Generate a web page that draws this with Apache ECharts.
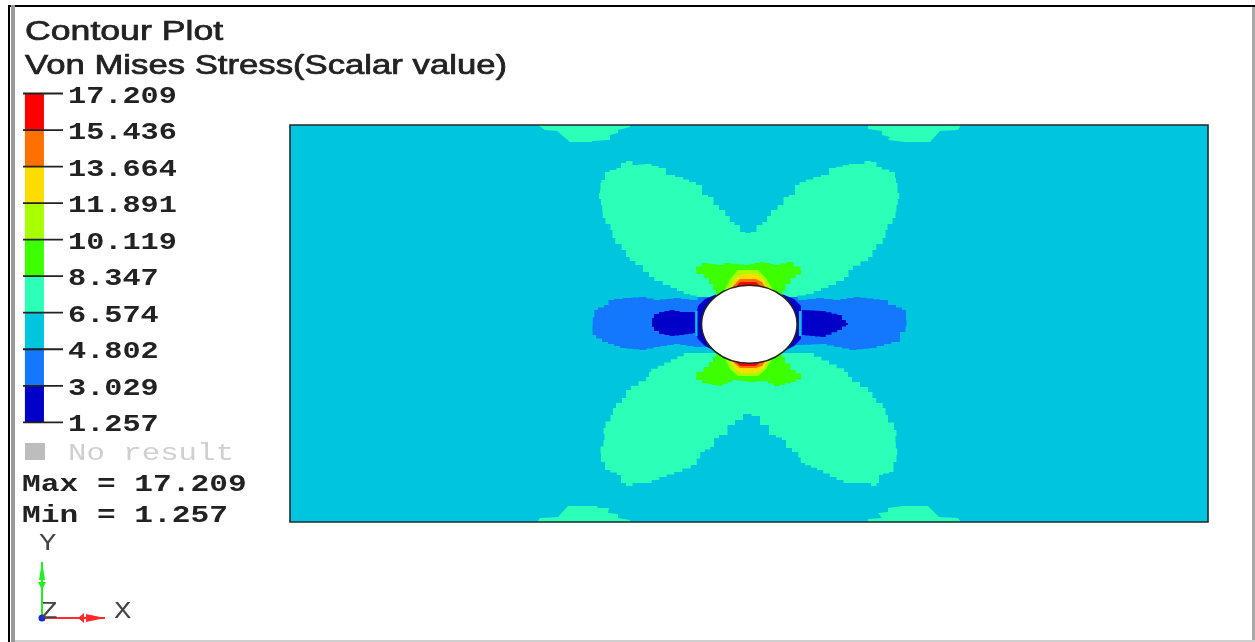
<!DOCTYPE html>
<html><head><meta charset="utf-8">
<script src="https://cdn.jsdelivr.net/npm/echarts@6/dist/echarts.min.js"></script>
<style>html,body{margin:0;padding:0;background:#fff}#c{width:1255px;height:642px;filter:blur(0.7px)}</style>
</head><body><div id="c"></div>
<script>
// Legend
const tickLabels = ['17.209','15.436','13.664','11.891','10.119','8.347','6.574','4.802','3.029','1.257'];
const bandColors = ['#ff0000','#ff7000','#ffdc00','#a8ff00','#3cff00','#2cffb8','#00c5de','#1478ff','#0000c8'];
const summary = ['Max = 17.209','Min = 1.257'];
// Plate, in plate units; each outline is one contour band
const plateLength = 918, plateWidth = 397;
const hole = {x:459.3, y:197.8, rx:47.8, ry:39};
const mintUpper = [[458,289],[453,290],[447,297],[442,300],[433,312],[425,317],[422,325],[414,327],[410,337],[402,340],[390,345],[380,347],[372,354],[358,358],[345,357],[340,361],[332,359],[330,354],[316,350],[314,342],[309,339],[312,332],[308,329],[312,317],[313,304],[323,292],[322,284],[335,272],[337,265],[348,257],[358,250],[360,245],[377,237],[397,228],[410,225],[503,225],[520,228],[542,237],[558,245],[559,252],[582,265],[583,272],[596,284],[595,292],[605,304],[607,317],[610,329],[605,339],[607,344],[603,350],[588,355],[585,360],[577,361],[572,358],[562,358],[543,354],[535,347],[527,345],[512,340],[507,337],[503,327],[495,325],[492,317],[483,312],[475,300],[470,297],[463,290]];
const mintLower = [[397,169],[358,150],[360,145],[337,132],[335,124],[323,114],[323,107],[313,94],[315,82],[309,69],[313,60],[317,52],[330,47],[332,39],[340,36],[345,39],[358,39],[373,45],[388,50],[405,57],[412,70],[423,75],[425,84],[433,87],[442,97],[448,102],[458,108],[465,106],[475,97],[483,87],[495,82],[497,74],[507,70],[512,59],[530,52],[543,45],[557,39],[577,39],[585,36],[588,39],[590,47],[602,50],[605,60],[608,67],[605,80],[607,92],[595,107],[596,114],[583,124],[582,130],[558,145],[558,150],[520,169]];
const mintTopLeft = [[248,397],[255,392],[267,391],[280,380],[302,380],[302,381],[320,382],[320,387],[328,389],[328,392],[340,395],[340,397]];
const mintTopRight = [[578,397],[578,393],[592,391],[592,387],[600,385],[598,382],[615,380],[640,380],[650,391],[668,392],[671,397]];
const mintBottomLeft = [[247,0],[250,4],[268,5],[278,16],[307,16],[308,14],[319,14],[318,9],[328,8],[328,4],[340,2],[340,0]];
const mintBottomRight = [[578,0],[578,3],[592,4],[588,9],[598,10],[598,14],[613,16],[638,16],[649,5],[668,4],[671,0]];
const blueBand = [[302,197],[305,212],[317,217],[320,222],[337,224],[353,225],[367,222],[387,224],[403,222],[412,225],[503,225],[513,222],[530,224],[547,222],[567,225],[593,222],[603,217],[615,212],[617,202],[615,190],[605,180],[583,174],[563,172],[533,178],[510,177],[407,175],[387,178],[367,175],[353,172],[333,174],[315,180],[303,187]];
const darkLeft = [[362,204],[366,208],[372,210],[382,212],[392,210],[405,210],[405,189],[392,187],[382,186],[372,188],[366,191],[362,195]];
const darkRight = [[558,197],[550,207],[533,211],[512,212],[512,187],[533,185],[550,192],[558,199]];
const crescentLeft = [[407,211],[408,216],[415,223],[427,228],[432,215],[432,182],[427,170],[415,176],[408,183],[407,186]];
const crescentRight = [[511,211],[511,216],[504,223],[492,228],[487,215],[487,182],[492,170],[504,176],[511,183],[511,186]];
const sliverLeft = [[405.5,186],[407.5,186],[407.5,211],[405.5,211]];
const sliverRight = [[509,186],[511,186],[511,211],[509,211]];
const greenUpper = [[403,252],[415,259],[430,257],[437,259],[457,257],[472,260],[487,257],[500,260],[514,251],[503,244],[493,232],[490,215],[430,215],[425,232],[417,244]];
const greenLower = [[403,145],[415,139],[430,136],[445,142],[460,140],[475,141],[487,136],[503,140],[514,145],[503,152],[492,165],[490,180],[430,180],[425,165],[417,155]];
const limeUpper = [[435,232],[440,243],[448,252],[468,252],[476,244],[483,232],[476,215],[442,215]];
const limeLower = [[435,164],[440,153],[448,146],[468,146],[476,153],[483,164],[476,180],[442,180]];
const yellowUpper = [[440,234],[446,244],[452,248],[466,248],[473,243],[478,234],[470,215],[448,215]];
const yellowLower = [[440,162],[446,152],[452,149],[466,149],[473,153],[478,162],[470,180],[448,180]];
const orangeUpper = [[443,236],[450,243],[466,243],[472,240],[475,235],[468,215],[450,215]];
const orangeLower = [[443,160],[450,154],[466,154],[472,156],[475,160],[468,180],[450,180]];
const redUpper = [[445,234],[450,240],[466,240],[472,234],[466,215],[450,215]];
const redLower = [[445,161],[450,156],[466,156],[472,161],[466,180],[450,180]];
// [band index, outline, mesh step of the stair-stepped contour edge]
const regions = [
 [5,mintUpper,7],[5,mintLower,7],[5,mintTopLeft,0],[5,mintTopRight,0],[5,mintBottomLeft,0],[5,mintBottomRight,0],
 [7,blueBand,7],[8,darkLeft,5],[8,darkRight,5],[8,crescentLeft,0],[8,crescentRight,0],[6,sliverLeft,0],[6,sliverRight,0],
 [4,greenUpper,6],[4,greenLower,6],[3,limeUpper,0],[3,limeLower,0],[2,yellowUpper,0],[2,yellowLower,0],[1,orangeUpper,0],[1,orangeLower,0],[0,redUpper,0],[0,redLower,0]
];
const legendBarSpan = [2,22];
const tickValues = tickLabels.map(Number);
const stretch = 1.26, mono = '"Liberation Mono"', ink = '#222';

// a contour edge on a coarse mesh is stair-stepped, like a step line
function stepped(poly, cell){
  if(!cell) return poly;
  const out=[];
  poly.forEach((a,i)=>{
    const b=poly[(i+1)%poly.length];
    const n=Math.max(1,Math.round(Math.max(Math.abs(b[0]-a[0]),Math.abs(b[1]-a[1]))/cell));
    for(let k=0;k<n;k++){
      const x0=a[0]+(b[0]-a[0])*k/n,y0=a[1]+(b[1]-a[1])*k/n,x1=a[0]+(b[0]-a[0])*(k+1)/n,y1=a[1]+(b[1]-a[1])*(k+1)/n;
      const xm=(x0+x1)/2;
      out.push([x0,y0],[xm,y0],[xm,y1]);
    }
  });
  return out;
}
function regionSeries(poly, color, cell){
  const pts=stepped(poly,cell);
  return {type:'custom',xAxisIndex:0,yAxisIndex:0,silent:true,animation:false,clip:false,data:poly,
    encode:{x:0,y:1},
    renderItem(p,api){
      if(p.dataIndex!==0) return null;
      return {type:'polygon',shape:{points:pts.map(q=>api.coord(q))},style:{fill:color}};
    }};
}
const series = [];
series.push(regionSeries([[0,0],[plateLength,0],[plateLength,plateWidth],[0,plateWidth]],bandColors[6],0));
regions.forEach(r=>series.push(regionSeries(r[1],bandColors[r[0]],r[2])));
// hole and plate outline
series.push({type:'custom',xAxisIndex:0,yAxisIndex:0,silent:true,animation:false,clip:false,
  data:[[hole.x,hole.y,hole.rx,hole.ry]],encode:{x:0,y:1},
  renderItem(p,api){
    const c=api.coord([api.value(0),api.value(1)]), s=api.size([api.value(2),api.value(3)]);
    return {type:'ellipse',shape:{cx:c[0],cy:c[1],rx:s[0],ry:s[1]},style:{fill:'#fff',stroke:'#222',lineWidth:1.6}};
  }});
series.push({type:'custom',xAxisIndex:0,yAxisIndex:0,silent:true,animation:false,clip:false,
  data:[[0,0],[plateLength,plateWidth]],encode:{x:0,y:1},
  renderItem(p,api){
    if(p.dataIndex!==0) return null;
    const a=api.coord([0,plateWidth]), b=api.coord([plateLength,0]);
    return {type:'rect',shape:{x:a[0],y:a[1],width:b[0]-a[0],height:b[1]-a[1]},style:{fill:'none',stroke:'#1c2a30',lineWidth:1.6}};
  }});
// legend colour bands
series.push({type:'custom',xAxisIndex:1,yAxisIndex:1,silent:true,animation:false,clip:false,
  data:bandColors.map((c,i)=>[legendBarSpan[0],tickValues[i],legendBarSpan[1],tickValues[i+1]]),
  encode:{x:[0,2],y:[1,3]},
  renderItem(p,api){
    const a=api.coord([api.value(0),api.value(1)]), b=api.coord([api.value(2),api.value(3)]);
    return {type:'rect',shape:{x:a[0],y:a[1],width:b[0]-a[0],height:b[1]-a[1]},style:{fill:bandColors[p.dataIndex]}};
  }});
// legend ticks and labels, stretched like the reference
series.push({type:'custom',xAxisIndex:1,yAxisIndex:1,silent:true,animation:false,clip:false,z:6,
  data:tickValues.map(v=>[42,v]),encode:{x:0,y:1},
  renderItem(p,api){
    const c=api.coord([api.value(0),api.value(1)]), o=api.coord([0,api.value(1)]);
    return {type:'group',children:[
      {type:'line',shape:{x1:o[0],y1:o[1],x2:c[0],y2:c[1]},style:{stroke:'#222',lineWidth:1.8}},
      {type:'text',x:c[0]+5,y:c[1]+3,scaleX:stretch,
       style:{text:tickLabels[p.dataIndex],font:'bold 24px '+mono,fill:ink,align:'left',verticalAlign:'middle'}}
    ]};
  }});

function txt(text,x,y,o){
  return {type:'text',x,y,scaleX:o.sx||stretch,z:10,silent:true,
    style:Object.assign({text,font:o.font,fill:o.fill||ink,align:'left',verticalAlign:'middle'},o.thick?{stroke:o.fill||ink,lineWidth:o.thick}:{})};
}
const graphic = [
  {type:'rect',z:9,silent:true,shape:{x:8,y:5,width:2,height:637},style:{fill:'#000'}},
  {type:'rect',z:9,silent:true,shape:{x:8,y:5,width:1247,height:2},style:{fill:'#000'}},
  {type:'rect',z:9,silent:true,shape:{x:11,y:5,width:4,height:637},style:{fill:'#999'}},
  {type:'rect',z:9,silent:true,shape:{x:1252,y:7,width:3,height:635},style:{fill:'#a8a8a8'}},
  {type:'rect',z:9,silent:true,shape:{x:15,y:640,width:1240,height:2},style:{fill:'#cfcfcf'}},
  txt('Contour Plot',25,33,{font:'27px "Liberation Sans"',sx:1.32,thick:0.7}),
  txt('Von Mises Stress(Scalar value)',25,67,{font:'27px "Liberation Sans"',sx:1.285,thick:0.7}),
  {type:'rect',z:9,silent:true,shape:{x:25,y:443,width:20,height:17},style:{fill:'#bdbdbd'}},
  txt('No result',68,453.5,{font:'24px '+mono,fill:'#cfcfcf',sx:1.28}),
  txt(summary[0],22,484.5,{font:'bold 24px '+mono,sx:1.3}),
  txt(summary[1],22,515.5,{font:'bold 24px '+mono,sx:1.3}),
  txt('Y',39,544,{font:'23px '+mono,fill:'#444'}),
  txt('X',114,612,{font:'23px '+mono,fill:'#444'}),
  txt('Z',41,612,{font:'23px '+mono,fill:'#444',sx:1.2}),
  {type:'line',z:9,silent:true,shape:{x1:42,y1:618,x2:42,y2:562},style:{stroke:'#22ee22',lineWidth:2}},
  {type:'polygon',z:9,silent:true,shape:{points:[[42,561],[39,580],[45,580]]},style:{fill:'#22ee22'}},
  {type:'polygon',z:9,silent:true,shape:{points:[[38,582],[46,582],[42,590]]},style:{fill:'#22ee22'}},
  {type:'line',z:9,silent:true,shape:{x1:42,y1:618,x2:105,y2:618},style:{stroke:'#ff2a2a',lineWidth:2}},
  {type:'polygon',z:9,silent:true,shape:{points:[[105,618],[86,614],[86,622]]},style:{fill:'#ff2a2a'}},
  {type:'polygon',z:9,silent:true,shape:{points:[[84,613],[84,623],[78,618]]},style:{fill:'#ff2a2a'}},
  {type:'circle',z:9,silent:true,shape:{cx:42,cy:618,r:3.5},style:{fill:'#1428e0'}}
];
const chart = echarts.init(document.getElementById('c'),null,{renderer:'canvas'});
chart.setOption({
  backgroundColor:'#fff',animation:false,
  grid:[{left:290,top:125,width:918,height:397,show:false},{left:23,top:93.5,width:40,height:328.8,show:false}],
  xAxis:[{type:'value',gridIndex:0,min:0,max:plateLength,show:false},
         {type:'value',gridIndex:1,min:0,max:42,show:false}],
  yAxis:[{type:'value',gridIndex:0,min:0,max:plateWidth,show:false},
         {type:'value',gridIndex:1,min:tickValues[9],max:tickValues[0],show:false}],
  graphic:{elements:graphic},
  series
});
</script></body></html>
